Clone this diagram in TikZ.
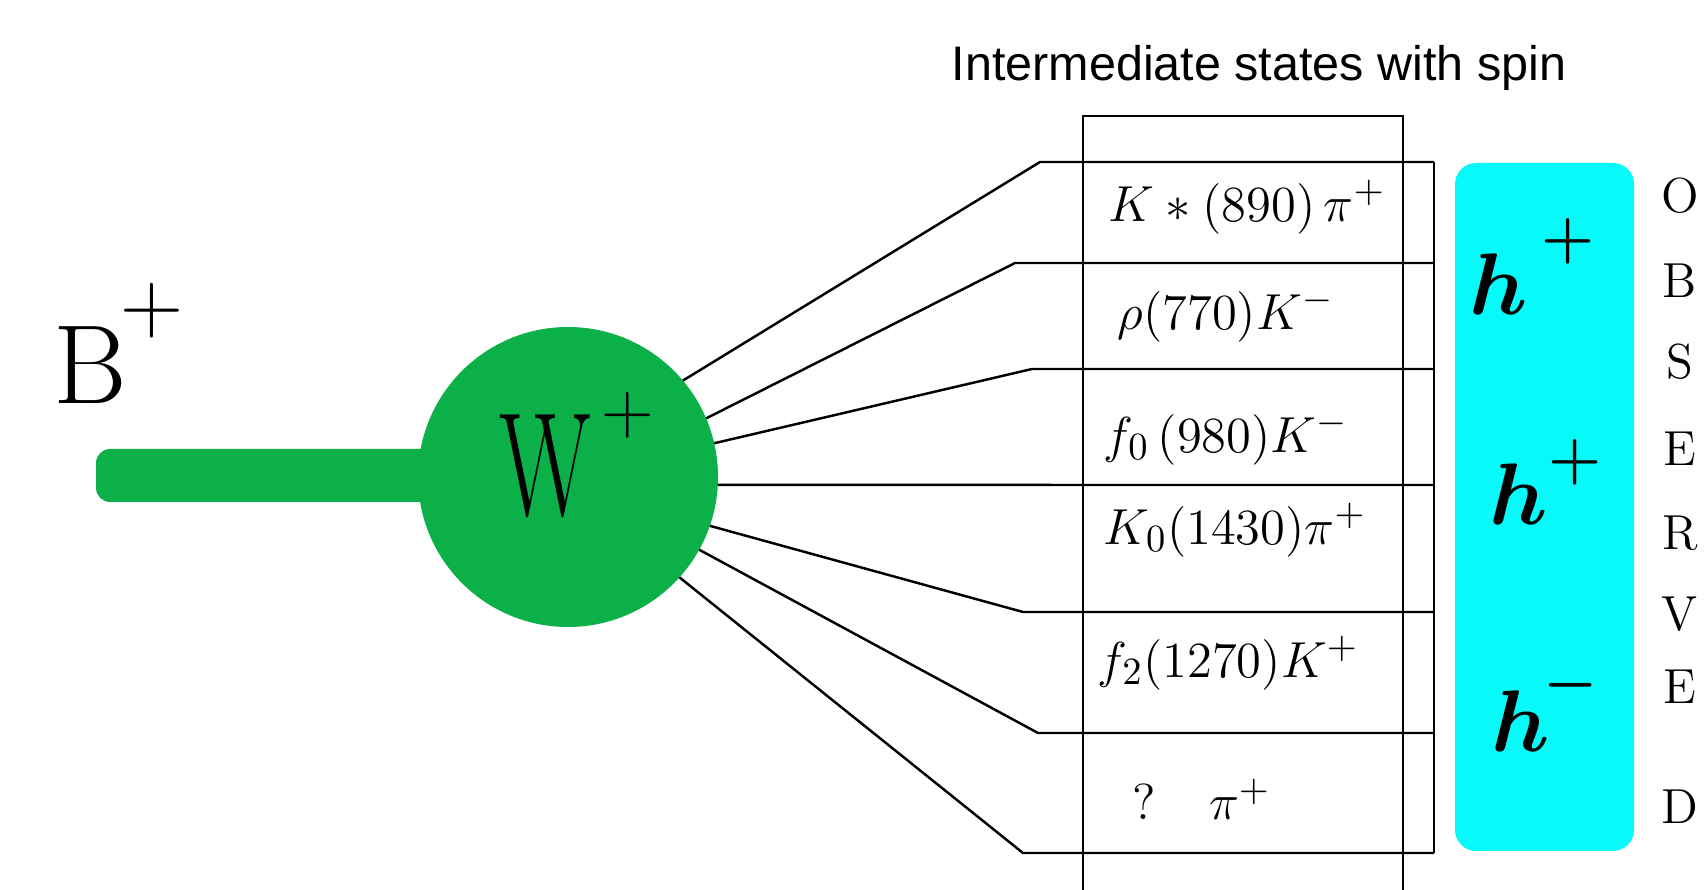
\documentclass[tikz,border=0pt]{standalone}
\usepackage{amsmath,amssymb}
\usepackage{fontspec}
\newfontfamily\titlefont{Liberation Sans}
\usepackage{xcolor}
\usepackage{tikz}
\usetikzlibrary{calc}

\definecolor{wgreen}{RGB}{11,176,72}
\definecolor{hcyan}{RGB}{6,250,250}

\begin{document}
\begin{tikzpicture}[font=\fontsize{15}{18}\selectfont, line width=0.7pt,
  statetxt/.style={anchor=west},
  bigtxt/.style={anchor=base west, inner sep=0pt},
  hlbl/.style={bigtxt, font=\fontsize{38}{40}\selectfont},
  hsign/.style={inner sep=0pt, font=\fontsize{16}{18}\selectfont}]
\useasboundingbox (0,0) rectangle (17.05,-8.9);
% title
\node[font=\titlefont\fontsize{13.8}{16}\selectfont] (title) at (12.59,-0.68) {Intermediate states with spin};
% B+ and the W vertex
\fill[wgreen, rounded corners=4pt] (0.96,-4.49) rectangle (5.68,-5.02);
\node[circle, fill=wgreen, minimum size=3cm, inner sep=0pt, outer sep=0pt] (W) at (5.68,-4.77) {};
\node[bigtxt, font=\fontsize{42}{44}\selectfont] (Wlbl) at (4.98,-5.16) {\scalebox{0.65}[1]{$\mathrm{W}$}};
\node[hsign, font=\fontsize{22}{24}\selectfont] (Wsign) at (6.28,-4.15) {$+$};
\node[bigtxt, font=\fontsize{32}{36}\selectfont] (Blbl) at (0.52,-4.04) {$\mathrm{B}$};
\node[hsign, font=\fontsize{30}{32}\selectfont] (Bsign) at (1.52,-3.11) {$+$};
% column of intermediate states
\coordinate (bot) at (0,-8.9);
\coordinate (cl) at (10.83,-1.16);
\coordinate (cr) at (14.03,-1.16);
\coordinate (rt) at (14.34,-1.62);
\draw (cl |- bot) -- (cl) -- (cr) -- (cr |- bot);
\foreach \i/\y/\xl/\ang in {1/-1.62/10.40/40, 2/-2.63/10.15/23, 3/-3.69/10.32/13,
  4/-4.85/10.83/-3, 5/-6.12/10.23/-19, 6/-7.33/10.38/-29, 7/-8.53/10.23/-42}{
  \coordinate (r\i) at (\xl,\y);
  \draw (W.\ang) -- (r\i) -- (r\i -| rt);
}
\draw (r1 -| rt) -- (r7 -| rt);
\node[statetxt] (s1) at (10.96,-2.07) {$K\ast(890)\,\pi^{+}$};
\node[statetxt] (s2) at (11.05,-3.15) {$\rho(770)K^{-}$};
\node[statetxt] (s3) at (10.91,-4.38) {$f_{0}\,(980)K^{-}$};
\node[statetxt] (s4) at (10.91,-5.30) {$K_{0}(1430)\pi^{+}$};
\node[statetxt] (s5) at (10.85,-6.63) {$f_{2}(1270)K^{+}$};
\node[statetxt] (s6) at (11.20,-7.99) {$?\quad\pi^{+}$};
% spin of the hadrons
\fill[hcyan, rounded corners=6pt] (14.55,-1.63) rectangle (16.34,-8.51);
\node[hlbl] (h1) at (14.68,-3.15) {$\boldsymbol{h}$};
\node[hsign] (h1s) at (15.68,-2.41) {$\boldsymbol{+}$};
\node[hlbl] (h2) at (14.88,-5.25) {$\boldsymbol{h}$};
\node[hsign] (h2s) at (15.75,-4.62) {$\boldsymbol{+}$};
\node[hlbl] (h3) at (14.90,-7.52) {$\boldsymbol{h}$};
\node[hsign] (h3s) at (15.71,-6.85) {$\boldsymbol{-}$};
\foreach \l/\y [count=\k] in {O/-1.96, B/-2.81, S/-3.62, E/-4.49, R/-5.33, V/-6.14, E/-6.87, D/-8.07}
  \node[font=\fontsize{14}{16}\selectfont] (obs\k) at (16.80,\y) {\l};
\end{tikzpicture}
\end{document}
